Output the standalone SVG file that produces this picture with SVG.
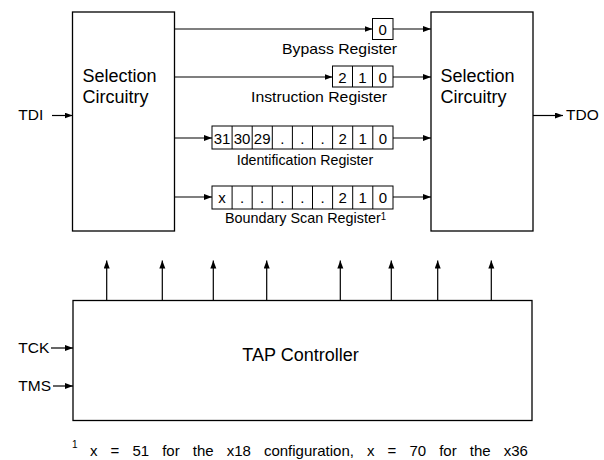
<svg xmlns="http://www.w3.org/2000/svg" width="604" height="460" viewBox="0 0 604 460">
<defs>
<marker id="ah" markerUnits="userSpaceOnUse" markerWidth="9" markerHeight="7" refX="8" refY="3" orient="auto">
<path d="M0,0 L8,3 L0,6 z" fill="#000"/>
</marker>
<style>
.box{fill:#fff;stroke:#000;stroke-width:1.3}
.cell{fill:#fff;stroke:#000;stroke-width:1}
.ln{stroke:#000;stroke-width:1.2;fill:none;marker-end:url(#ah)}
text{font-family:"Liberation Sans",Arial,sans-serif;fill:#000}
.big{font-size:18px}
.lbl{font-size:15px}
.sig{font-size:15.5px}
.d{font-size:15px;text-anchor:middle}
.sup{font-size:10px}
</style>
</defs>
<rect width="604" height="460" fill="#fff"/>

<g id="sel-left">
<rect class="box" x="72.5" y="12" width="102" height="219"/>
<text class="big" x="82.5" y="81.5">Selection</text>
<text class="big" x="82.5" y="102.5">Circuitry</text>
</g>

<g id="sel-right">
<rect class="box" x="431" y="12" width="102" height="219"/>
<text class="big" x="440.5" y="81.5">Selection</text>
<text class="big" x="440.5" y="102.5">Circuitry</text>
</g>

<g id="bypass">
<rect class="cell" x="372.5" y="18.5" width="20.5" height="21"/>
<text class="d" x="382.7" y="35">0</text>
<text class="lbl" x="282" y="54" textLength="115" lengthAdjust="spacingAndGlyphs">Bypass Register</text>
</g>

<g id="instruction">
<rect class="cell" x="332.5" y="66" width="60.5" height="21"/>
<line x1="352.5" y1="66" x2="352.5" y2="87" stroke="#000"/>
<line x1="372.5" y1="66" x2="372.5" y2="87" stroke="#000"/>
<text class="d" x="342.5" y="82.5">2</text>
<text class="d" x="362.5" y="82.5">1</text>
<text class="d" x="382.7" y="82.5">0</text>
<text class="lbl" x="251" y="102.3" textLength="136" lengthAdjust="spacingAndGlyphs">Instruction Register</text>
</g>

<g id="identification">
<rect class="cell" x="212" y="126" width="181" height="23"/>
<g stroke="#000">
<line x1="232.1" y1="126" x2="232.1" y2="149"/>
<line x1="252.2" y1="126" x2="252.2" y2="149"/>
<line x1="272.3" y1="126" x2="272.3" y2="149"/>
<line x1="292.4" y1="126" x2="292.4" y2="149"/>
<line x1="312.5" y1="126" x2="312.5" y2="149"/>
<line x1="332.6" y1="126" x2="332.6" y2="149"/>
<line x1="352.7" y1="126" x2="352.7" y2="149"/>
<line x1="372.8" y1="126" x2="372.8" y2="149"/>
</g>
<text class="d" x="222" y="143.5">31</text>
<text class="d" x="242.1" y="143.5">30</text>
<text class="d" x="262.2" y="143.5">29</text>
<text class="d" x="282.3" y="143.5">.</text>
<text class="d" x="302.4" y="143.5">.</text>
<text class="d" x="322.5" y="143.5">.</text>
<text class="d" x="342.6" y="143.5">2</text>
<text class="d" x="362.7" y="143.5">1</text>
<text class="d" x="382.9" y="143.5">0</text>
<text class="lbl" x="236.7" y="165" textLength="136.5" lengthAdjust="spacingAndGlyphs">Identification Register</text>
</g>

<g id="boundary">
<rect class="cell" x="212" y="186" width="181" height="23"/>
<g stroke="#000">
<line x1="232.1" y1="186" x2="232.1" y2="209"/>
<line x1="252.2" y1="186" x2="252.2" y2="209"/>
<line x1="272.3" y1="186" x2="272.3" y2="209"/>
<line x1="292.4" y1="186" x2="292.4" y2="209"/>
<line x1="312.5" y1="186" x2="312.5" y2="209"/>
<line x1="332.6" y1="186" x2="332.6" y2="209"/>
<line x1="352.7" y1="186" x2="352.7" y2="209"/>
<line x1="372.8" y1="186" x2="372.8" y2="209"/>
</g>
<text class="d" x="222" y="203">x</text>
<text class="d" x="242.1" y="203">.</text>
<text class="d" x="262.2" y="203">.</text>
<text class="d" x="282.3" y="203">.</text>
<text class="d" x="302.4" y="203">.</text>
<text class="d" x="322.5" y="203">.</text>
<text class="d" x="342.6" y="203">2</text>
<text class="d" x="362.7" y="203">1</text>
<text class="d" x="382.9" y="203">0</text>
<text class="lbl" x="225" y="223.3" textLength="161" lengthAdjust="spacingAndGlyphs">Boundary Scan Register<tspan font-size="10" dy="-3.5">1</tspan></text>
</g>

<g id="tap">
<rect class="box" x="73" y="300.5" width="459" height="120"/>
<text class="big" x="242.3" y="360.7">TAP Controller</text>
</g>

<g id="signals">
<text class="sig" x="18.3" y="120">TDI</text>
<text class="sig" x="566" y="120">TDO</text>
<text class="sig" x="18.3" y="353">TCK</text>
<text class="sig" x="18.3" y="391">TMS</text>
</g>

<g id="connectors">
<line class="ln" x1="52" y1="115.5" x2="72.5" y2="115.5"/>
<line class="ln" x1="533" y1="115.5" x2="563" y2="115.5"/>
<line class="ln" x1="51" y1="348" x2="73" y2="348"/>
<line class="ln" x1="53" y1="386" x2="73" y2="386"/>

<line class="ln" x1="174.5" y1="29" x2="372.5" y2="29"/>
<line class="ln" x1="174.5" y1="77" x2="332.5" y2="77"/>
<line class="ln" x1="174.5" y1="138" x2="212" y2="138"/>
<line class="ln" x1="174.5" y1="197" x2="212" y2="197"/>

<line class="ln" x1="393" y1="29" x2="431" y2="29"/>
<line class="ln" x1="393" y1="77" x2="431" y2="77"/>
<line class="ln" x1="393" y1="138" x2="431" y2="138"/>
<line class="ln" x1="393" y1="197" x2="431" y2="197"/>

<line class="ln" x1="106.7" y1="300.5" x2="106.7" y2="260.5"/>
<line class="ln" x1="162.3" y1="300.5" x2="162.3" y2="260.5"/>
<line class="ln" x1="213.3" y1="300.5" x2="213.3" y2="260.5"/>
<line class="ln" x1="266.7" y1="300.5" x2="266.7" y2="260.5"/>
<line class="ln" x1="340.3" y1="300.5" x2="340.3" y2="260.5"/>
<line class="ln" x1="391.3" y1="300.5" x2="391.3" y2="260.5"/>
<line class="ln" x1="437.7" y1="300.5" x2="437.7" y2="260.5"/>
<line class="ln" x1="491.3" y1="300.5" x2="491.3" y2="260.5"/>
</g>

<g id="footnote">
<text class="sup" x="72" y="448">1</text>
<text x="90" y="455.5" font-size="15" word-spacing="8.9">x = 51 for the x18 configuration, x = 70 for the x36</text>
</g>
</svg>
